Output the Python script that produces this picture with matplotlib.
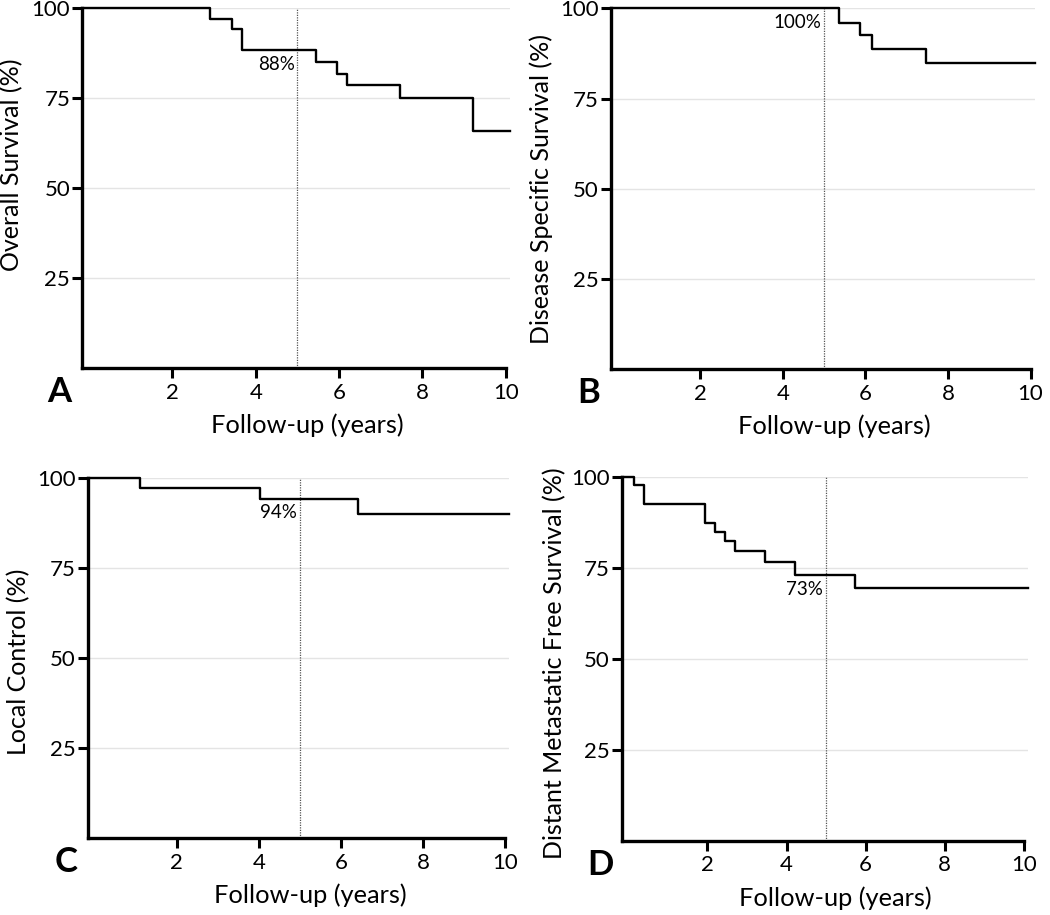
import numpy as np
import matplotlib.pyplot as plt

plt.rcParams['font.family'] = ['Lato', 'DejaVu Sans']

# Kaplan-Meier steps: event time (years), survival (%)
os_times = [0, 2.91, 3.43, 3.68, 5.44, 5.95, 6.19, 7.47, 9.22]
os_surv = [100, 97.0, 94.1, 88.2, 85.1, 81.8, 78.5, 75.0, 65.8]

dss_times = [0, 5.36, 5.88, 6.15, 7.46]
dss_surv = [100, 96.0, 92.6, 88.7, 84.8]

lc_times = [0, 1.11, 4.03, 6.42]
lc_surv = [100, 97.4, 94.3, 90.0]

dmfs_times = [0, 0.15, 0.40, 1.93, 2.18, 2.45, 2.70, 3.46, 4.22, 5.73]
dmfs_surv = [100, 97.6, 92.6, 87.4, 84.8, 82.2, 79.5, 76.5, 72.9, 69.4]

y_labels = ["Overall Survival (%)", "Disease Specific Survival (%)",
            "Local Control (%)", "Distant Metastatic Free Survival (%)"]
letters = ["A", "B", "C", "D"]
rate_labels = ["88%", "100%", "94%", "73%"]
x_ticks = [2, 4, 6, 8, 10]
y_ticks = [25, 50, 75, 100]
landmark = 5

W, H = 1050, 915
xmin, xmax = -0.17, 10.1

# axes boxes in pixels: left, top, width, height
boxes = [(82, 8, 428, 360), (610.7, 8.3, 424, 361),
         (87.7, 478.3, 421.6, 360), (621.7, 476.7, 406, 364)]
ylab_y = [0.564, 0.5, 0.49, 0.487]

fig = plt.figure(figsize=(W / 100, H / 100), dpi=100)

panels = [(os_times, os_surv), (dss_times, dss_surv),
          (lc_times, lc_surv), (dmfs_times, dmfs_surv)]

for i, (t, s) in enumerate(panels):
    l, top, w, h = boxes[i]
    ax = fig.add_axes([l / W, (H - top - h) / H, w / W, h / H])

    x = np.r_[xmin, t[1:], xmax]
    y = np.r_[s, s[-1]]
    ax.step(x, y, where="post", color="black", lw=1.7, clip_on=False, zorder=3)

    # 5-year landmark
    ax.plot([landmark, landmark], [0, 100], color="#555555", lw=0.9,
            ls=(0, (1, 1)), zorder=2)
    s5 = s[np.searchsorted(t, landmark, side="right") - 1]
    ax.annotate(rate_labels[i], xy=(landmark, s5), xytext=(-2, -4),
                textcoords="offset points", ha="right", va="top", fontsize=13.5)

    ax.set_xlim(xmin, xmax)
    ax.set_ylim(0, 100)
    ax.set_xticks(x_ticks)
    ax.set_yticks(y_ticks)
    ax.yaxis.grid(True, color="#e4e4e4", lw=1.0)
    ax.set_axisbelow(True)

    for side in ["top", "right"]:
        ax.spines[side].set_visible(False)
    for side in ["left", "bottom"]:
        ax.spines[side].set_linewidth(2.4)
    ax.spines["bottom"].set_bounds(xmin, 10)
    ax.spines["left"].set_bounds(0, 100)
    ax.tick_params(direction="out", length=7.5, width=2.2, labelsize=16, pad=3)
    ax.tick_params(axis="y", pad=1)

    ax.set_xlabel("Follow-up (years)", fontsize=18.3)
    ax.xaxis.set_label_coords(0.527, -0.125)
    ax.set_ylabel(y_labels[i], fontsize=18)
    ax.yaxis.set_label_coords(-0.137, ylab_y[i])

    ax.text(-0.052, -0.066, letters[i], transform=ax.transAxes, ha="center",
            va="center", fontsize=25, fontweight="bold")

fig.savefig("out.png", dpi=100)
